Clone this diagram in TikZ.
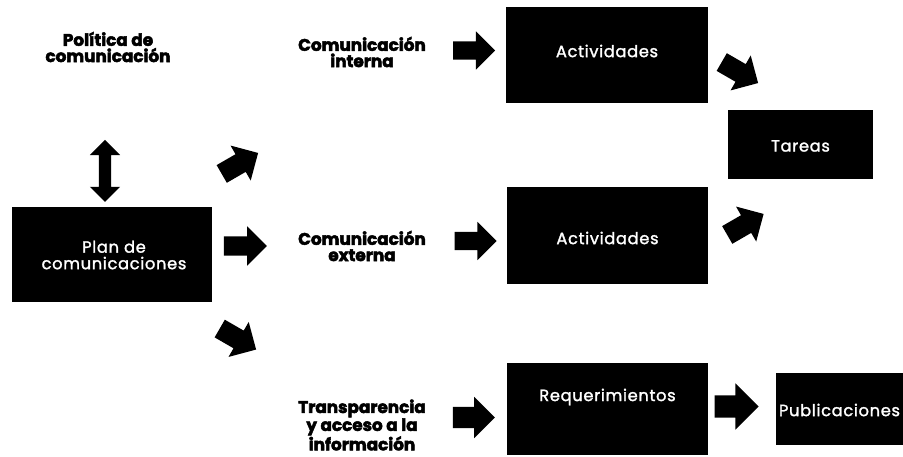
\documentclass[tikz,border=0pt]{standalone}
\usepackage{fontspec}
\setmainfont{Poppins}
\newfontfamily\heavyfont{Poppins}[BoldFeatures={FakeBold=3}]
\newfontfamily\boxfont{Poppins}[LetterSpace=4, FakeBold=1.6]
\usetikzlibrary{shapes.arrows}
\begin{document}
\begin{tikzpicture}[x=1pt,y=-1pt,
  box/.style={fill=black, draw=none, inner sep=0},
  wtext/.style={text=white, font=\boxfont\fontsize{16.3}{16.5}\selectfont, inner sep=0, align=center},
  lab/.style={text=black, font=\heavyfont\bfseries\fontsize{16.8}{16.2}\selectfont, inner sep=0, align=center},
  blk/.style={single arrow, fill=black, draw=none, inner xsep=0, inner ysep=10, text height=0pt, text depth=0pt, minimum height=42, single arrow head extend=10},
  dblk/.style={double arrow, fill=black, draw=none, inner xsep=0, inner ysep=6, text height=0pt, text depth=0pt, minimum height=62, double arrow head extend=9}
]
\useasboundingbox (0,0) rectangle (903,457);
\fill[white] (0,0) rectangle (903,457);

% boxes
\node[box, minimum width=200, minimum height=95] (plan) at (112,254.5) {};
\node[box, minimum width=202, minimum height=96] (act1) at (607,55) {};
\node[box, minimum width=145, minimum height=69] (tar) at (800.5,144.5) {};
\node[box, minimum width=201, minimum height=97] (act2) at (607.5,235.5) {};
\node[box, minimum width=201, minimum height=92] (req) at (607.5,409) {};
\node[box, minimum width=127, minimum height=72] (pub) at (839.5,409) {};

% box texts
\node[wtext] (plant) at (114,255) {Plan de\\comunicaciones};
\node[wtext] (act1t) at (607,51) {Actividades};
\node[wtext] (tart) at (800.5,146) {Tareas};
\node[wtext] (act2t) at (607.5,238) {Actividades};
\node[wtext] (reqt) at (607.5,397) {Requerimientos};
\node[wtext] (pubt) at (839.5,410) {Publicaciones};

% labels
\node[lab] (pol) at (108,47) {Política de\\comunicación};
\node[lab] (cint) at (362,52) {Comunicación\\interna};
\node[lab] (cext) at (362,246) {Comunicación\\externa};
\node[lab] (trans) at (362,425) {Transparencia\\y acceso a la\\información};

% block arrows
\node[dblk, rotate=90] (d1) at (105,171) {};
\node[blk, rotate=30] (a_up) at (235.5,166) {};
\node[blk, minimum height=43, inner ysep=9.5] (a_right) at (240.5,246) {};
\node[blk, rotate=-30] (a_down) at (233.5,336.5) {};
\node[blk, inner ysep=9] (a1) at (469.5,50.5) {};
\node[blk, inner ysep=9] (a2) at (471,241) {};
\node[blk, inner ysep=10.5] (a3) at (468.5,417.5) {};
\node[blk, rotate=-30] (a4) at (735.5,70) {};
\node[blk, rotate=30] (a5) at (741,227) {};
\node[blk, minimum height=44, inner ysep=11, single arrow head extend=12] (a6) at (731,406.5) {};
\end{tikzpicture}
\end{document}
